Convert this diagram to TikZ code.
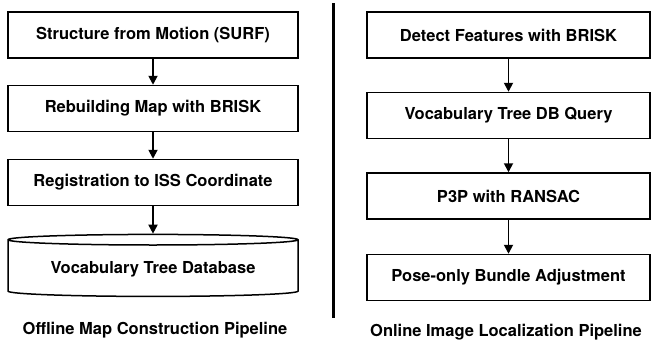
\documentclass[tikz,border=0pt]{standalone}
\usepackage{fontspec}
\setmainfont{TeX Gyre Heros}
\usetikzlibrary{arrows.meta}
\usetikzlibrary{positioning,shapes}
\usetikzlibrary{shapes.geometric}

\begin{document}
\begin{tikzpicture}[x=1pt, y=1pt, font=\fontsize{16.5}{19}\selectfont\bfseries,
        box/.style={draw, line width=1.5pt, minimum height=46pt},
        lbox/.style={box, minimum width=290pt},
        rbox/.style={box, minimum width=283pt},
        db/.style={draw, line width=1.5pt, cylinder, shape border rotate=90, aspect=0.05,
            minimum width=290pt, minimum height=62pt},
        arr/.style={-{Triangle[width=9pt,length=9pt]}, line width=1.8pt}]
    \useasboundingbox (0,0) rectangle (652,-343);
    % offline pipeline
    \node[lbox] (SfM) at (153,-35) {Structure from Motion (SURF)};
    \node[lbox, node distance=73.5pt, below of=SfM] (Rebuild) {Rebuilding Map with BRISK};
    \node[lbox, node distance=74pt, below of=Rebuild] (Reg) {Registration to ISS Coordinate};
    \node[db, node distance=86.5pt, below of=Reg] (VocDB) {Vocabulary Tree Database};
    \node at (155,-330) (OffCap) {Offline Map Construction Pipeline};
    \path[arr] (SfM) edge (Rebuild);
    \path[arr] (Rebuild) edge (Reg);
    \path[arr] (Reg) edge (VocDB);
    % divider
    \draw[line width=3pt] (333,-3) -- (333,-318);
    % online pipeline
    \node[rbox] (Detect) at (508.5,-35) {Detect Features with BRISK};
    \node[rbox, node distance=80.5pt, below of=Detect] (Query) {Vocabulary Tree DB Query};
    \node[rbox, node distance=80.5pt, below of=Query] (PnP) {P3P with RANSAC};
    \node[rbox, node distance=81.5pt, below of=PnP] (BA) {Pose-only Bundle Adjustment};
    \node at (506,-332) (OnCap) {Online Image Localization Pipeline};
    \path[arr] (Detect) edge (Query);
    \path[arr] (Query) edge (PnP);
    \path[arr] (PnP) edge (BA);
\end{tikzpicture}
\end{document}
